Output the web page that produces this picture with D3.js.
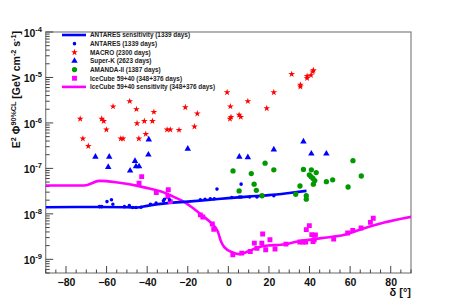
<!DOCTYPE html>
<html><head><meta charset="utf-8">
<script src="https://cdn.jsdelivr.net/npm/d3@7"></script>
<style>
html,body{margin:0;padding:0;background:#fff;}
svg text{font-family:"Liberation Sans",Arial,Helvetica,sans-serif;}
</style>
</head><body>
<svg id="c" width="457" height="304"></svg>
<script>
// ---- data ----
const legendLabels = ["ANTARES sensitivity (1339 days)","ANTARES (1339 days)","MACRO (2300 days)","Super-K (2623 days)","AMANDA-II (1387 days)","IceCube 59+40 (348+376 days)","IceCube 59+40 sensitivity (348+376 days)"];
const xTicks = [-80,-60,-40,-20,0,20,40,60,80];
const yTickExps = [-9,-8,-7,-6,-5,-4];

const antaresSensDec = [-90,-70,-50,-45,-40,-30,-20,-10,0,10,20,30,38.5];
const antaresSensVal = [1.40e-8,1.42e-8,1.40e-8,1.38e-8,1.50e-8,1.72e-8,1.86e-8,2.02e-8,2.22e-8,2.40e-8,2.58e-8,2.88e-8,3.2e-8];

const antaresDec = [-63.5,-62.4,-59.8,-57.6,-56.9,-51.2,-48.8,-47.1,-45.5,-43,-38.4,-35.6,-32,-31.5,-29,-13.8,-11.5,-8.9,-6.9,-5.6,1.7,5.4,6.3,6.3,10.5,14.1,22.4];
const antaresVal = [1.44e-8,1.44e-8,1.86e-8,2.04e-8,1.62e-8,1.44e-8,1.52e-8,1.38e-8,1.38e-8,1.40e-8,1.62e-8,1.72e-8,1.93e-8,2.1e-8,2.03e-8,2.03e-8,2.1e-8,2.14e-8,2.14e-8,3.5e-8,2.28e-8,2.35e-8,4.5e-8,2.35e-8,2.35e-8,2.35e-8,2.5e-8];

const macroDec = [-73,-71.7,-69,-62.4,-61.4,-60.1,-56.8,-53,-51.9,-48.6,-45.3,-45,-44.1,-41.4,-40.7,-37.4,-36.7,-30.2,-28.6,-24.3,-21.2,-16.7,-15.3,-0.6,0.8,1.0,1.3,5.3,6.1,9.6,18.9,22.4,31.2,35.5,35.5,38.8,38.8,40.7,41.6,41.9];
const macroVal = [1.23e-6,4.5e-7,3.1e-7,1.23e-6,1.1e-6,7.1e-7,2.3e-6,4.5e-7,4.5e-7,3.0e-6,2.0e-6,9.8e-7,4.5e-7,1.1e-6,5.7e-7,1.1e-6,1.74e-6,7.1e-7,7.1e-7,7.0e-7,2.2e-6,8.3e-7,1.6e-6,4.7e-6,1.23e-6,2.3e-6,1.35e-6,1.5e-6,1.35e-6,3.0e-6,2.1e-6,4.7e-6,1.18e-5,6.9e-6,6.3e-6,1.07e-5,9.7e-6,1.12e-5,1.34e-5,1.44e-5];

const superkDec = [-65.5,-59.2,-58.7,-48.4,-46,-45.5,-44,-39.4,-39.2,-20,5.4,9.6,22.4,37,40.9,48.3];
const superkVal = [1.8e-7,1.07e-7,1.8e-7,8.9e-8,1.45e-7,1.1e-7,1.1e-7,2.0e-7,4.3e-7,2.7e-7,1.8e-7,1.75e-7,2.6e-7,3.9e-7,2.1e-7,2.1e-7];

const amandaDec = [2.3,5.3,11.3,12.7,13.8,16.6,18.1,22.4,33.2,35.3,37,38.4,38.4,39.9,40.7,40.9,41.7,41.9,42.6,43.3,48.3,51.4,59,61.4,65.5];
const amandaVal = [8.8e-8,3.2e-8,7.7e-8,4.5e-8,3.3e-8,2.5e-8,1.3e-7,9.3e-8,2.7e-8,4.1e-8,9.5e-8,2.5e-8,2.1e-8,7.2e-8,6.6e-8,9.3e-8,6.0e-8,4.5e-8,5.4e-8,8.1e-8,5.1e-8,5.6e-8,3.9e-8,1.48e-7,6.8e-8];

const icecubeDec = [-44,-42.7,-35.5,-29.8,-29.6,-28.6,-13.8,-12.6,-7.9,-7.2,2.2,6.6,10.8,12.8,14.1,16.5,16.9,18.4,20.5,23,28.4,35.2,36.8,38.1,38.4,39.9,41.1,41.7,42.3,42.9,51.9,58.8,61.3,65.4,70,71.4];
const icecubeVal = [4.7e-8,6.6e-8,2.95e-8,2.4e-8,3.4e-8,1.86e-8,9.5e-9,8.5e-9,6.0e-9,4.6e-9,1.26e-9,1.37e-9,1.49e-9,2.27e-9,1.74e-9,2.27e-9,3.6e-9,1.62e-9,2.7e-9,1.68e-9,2.16e-9,2.4e-9,2.4e-9,2.4e-9,4.5e-9,5.5e-9,3.5e-9,2.45e-9,2.7e-9,3.45e-9,2.8e-9,3.8e-9,4.3e-9,4.9e-9,6.5e-9,8.0e-9];

const icecubeSensDec = [-90,-71,-63.5,-54.5,-44.6,-39.7,-33.1,-26.6,-21.6,-16.7,-12.6,-8.5,-5.2,-3.6,-2.0,2.2,5.4,9.6,14.5,19.4,26,34.2,45.7,57.2,65.4,76.8,90];
const icecubeSensVal = [4.19e-8,4.19e-8,5.3e-8,4.88e-8,4.12e-8,3.67e-8,3.09e-8,2.33e-8,1.81e-8,1.26e-8,9.0e-9,6.3e-9,4.08e-9,2.46e-9,1.85e-9,1.41e-9,1.30e-9,1.48e-9,1.82e-9,2.01e-9,2.09e-9,2.46e-9,2.92e-9,3.45e-9,4.6e-9,6.45e-9,8.6e-9];

// ---- chart ----
const svg = d3.select("#c");
const L = 45.7, R = 411, T = 32, B = 273;
const x = d3.scaleLinear().domain([-90,90]).range([L,R]);
const y = d3.scaleLog().domain([5e-10,1e-4]).range([B,T]);

const BLUE="#0000ff", RED="#ff0000", GREEN="#009a00", MAG="#ff00ff";
const zip = (a,b)=>a.map((v,i)=>[v,b[i]]);

svg.append("clipPath").attr("id","pc").append("rect").attr("x",L).attr("y",T).attr("width",R-L).attr("height",B-T);

svg.append("rect").attr("x",L).attr("y",T).attr("width",R-L).attr("height",B-T)
  .attr("fill","none").attr("stroke","#808080").attr("stroke-width",1.2);

// y axis ticks (inside)
const yg = svg.append("g");
for (let e=-10;e<=-4;e++){
  for (let m=1;m<=9;m++){
    const v = m*Math.pow(10,e);
    if (v<5e-10*0.999 || v>1e-4*1.0001) continue;
    const len = m===1?7.5:4;
    yg.append("line").attr("x1",L).attr("x2",L+len).attr("y1",y(v)).attr("y2",y(v))
      .attr("stroke","#444").attr("stroke-width",1);
  }
}
yTickExps.forEach(e=>{
  const t = yg.append("text").attr("x",42).attr("y",y(Math.pow(10,e))+5)
    .attr("text-anchor","end").attr("font-size",10.5).attr("font-weight","bold").attr("fill","#111");
  t.append("tspan").text("10");
  t.append("tspan").attr("dy",-5).attr("font-size",7.5).text(String(e));
});

// x axis ticks (inside, from bottom)
const xg = svg.append("g");
for (let v=-90; v<=90; v+=5){
  const major = v%20===0;
  xg.append("line").attr("x1",x(v)).attr("x2",x(v)).attr("y1",B).attr("y2",B-(major?7:3.5))
    .attr("stroke","#444").attr("stroke-width",1);
}
const xAxis = d3.axisBottom(x).tickValues(xTicks).tickSize(0).tickPadding(0);
const xa = svg.append("g").attr("transform",`translate(0,${B})`).call(xAxis);
xa.select(".domain").remove();
xa.selectAll("text").attr("y",12.5).attr("dy",0).attr("font-size",10.5).attr("font-weight","bold")
  .attr("fill","#111").attr("font-family","Liberation Sans, Arial, sans-serif");

// axis titles
const yl = svg.append("text").attr("transform","translate(20,31) rotate(-90)").attr("text-anchor","end")
  .attr("font-size",10.5).attr("font-weight","bold").attr("fill","#111");
yl.append("tspan").text("E");
yl.append("tspan").attr("dy",-4.5).attr("font-size",7.2).text("2");
yl.append("tspan").attr("dy",4.5).text(" \u03A6");
yl.append("tspan").attr("dy",-4.5).attr("font-size",7.2).text("90%CL");
yl.append("tspan").attr("dy",4.5).text(" [GeV cm");
yl.append("tspan").attr("dy",-4.5).attr("font-size",7.2).text("-2");
yl.append("tspan").attr("dy",4.5).text(" s");
yl.append("tspan").attr("dy",-4.5).attr("font-size",7.2).text("-1");
yl.append("tspan").attr("dy",4.5).text("]");

svg.append("text").attr("x",411).attr("y",296).attr("text-anchor","end")
  .attr("font-size",11).attr("font-weight","bold").attr("fill","#111").text("\u03B4 [\u00B0]");

// plot content
const pg = svg.append("g").attr("clip-path","url(#pc)");
const line = d3.line().x(d=>x(d[0])).y(d=>y(d[1])).curve(d3.curveMonotoneX);

pg.append("path").datum(zip(icecubeSensDec,icecubeSensVal)).attr("d",line)
  .attr("fill","none").attr("stroke",MAG).attr("stroke-width",2.6);
pg.append("path").datum(zip(antaresSensDec,antaresSensVal)).attr("d",line)
  .attr("fill","none").attr("stroke",BLUE).attr("stroke-width",2.6);

const sym = {
  antares: d3.symbol().type(d3.symbolCircle).size(10),
  macro: d3.symbol().type(d3.symbolStar).size(14),
  superk: d3.symbol().type(d3.symbolTriangle).size(18),
  amanda: d3.symbol().type(d3.symbolCircle).size(22),
  icecube: d3.symbol().type(d3.symbolSquare).size(24)
};
function pts(xs,ys,s,col){
  pg.append("g").selectAll("path").data(zip(xs,ys)).join("path")
    .attr("transform",d=>`translate(${x(d[0])},${y(d[1])})`).attr("d",s).attr("fill",col);
}
pts(icecubeDec,icecubeVal,sym.icecube,MAG);
pts(amandaDec,amandaVal,sym.amanda,GREEN);
pts(superkDec,superkVal,sym.superk,BLUE);
pts(macroDec,macroVal,sym.macro,RED);
pts(antaresDec,antaresVal,sym.antares,BLUE);

// legend
const lg = svg.append("g");
const legendKinds = [["line",BLUE],["antares",BLUE],["macro",RED],["superk",BLUE],["amanda",GREEN],["icecube",MAG],["line",MAG]];
legendLabels.forEach((lab,i)=>{
  const cy = 35 + i*8.65;
  const [k,col] = legendKinds[i];
  if (k==="line"){
    lg.append("line").attr("x1",62).attr("x2",86).attr("y1",cy).attr("y2",cy).attr("stroke",col).attr("stroke-width",2.6);
  } else {
    lg.append("path").attr("transform",`translate(74.5,${cy})`).attr("d",sym[k]).attr("fill",col);
  }
  lg.append("text").attr("x",90).attr("y",cy+2.4).attr("font-size",6.4).attr("font-weight","bold")
    .attr("fill","#222").text(lab);
});
</script>
</body></html>
